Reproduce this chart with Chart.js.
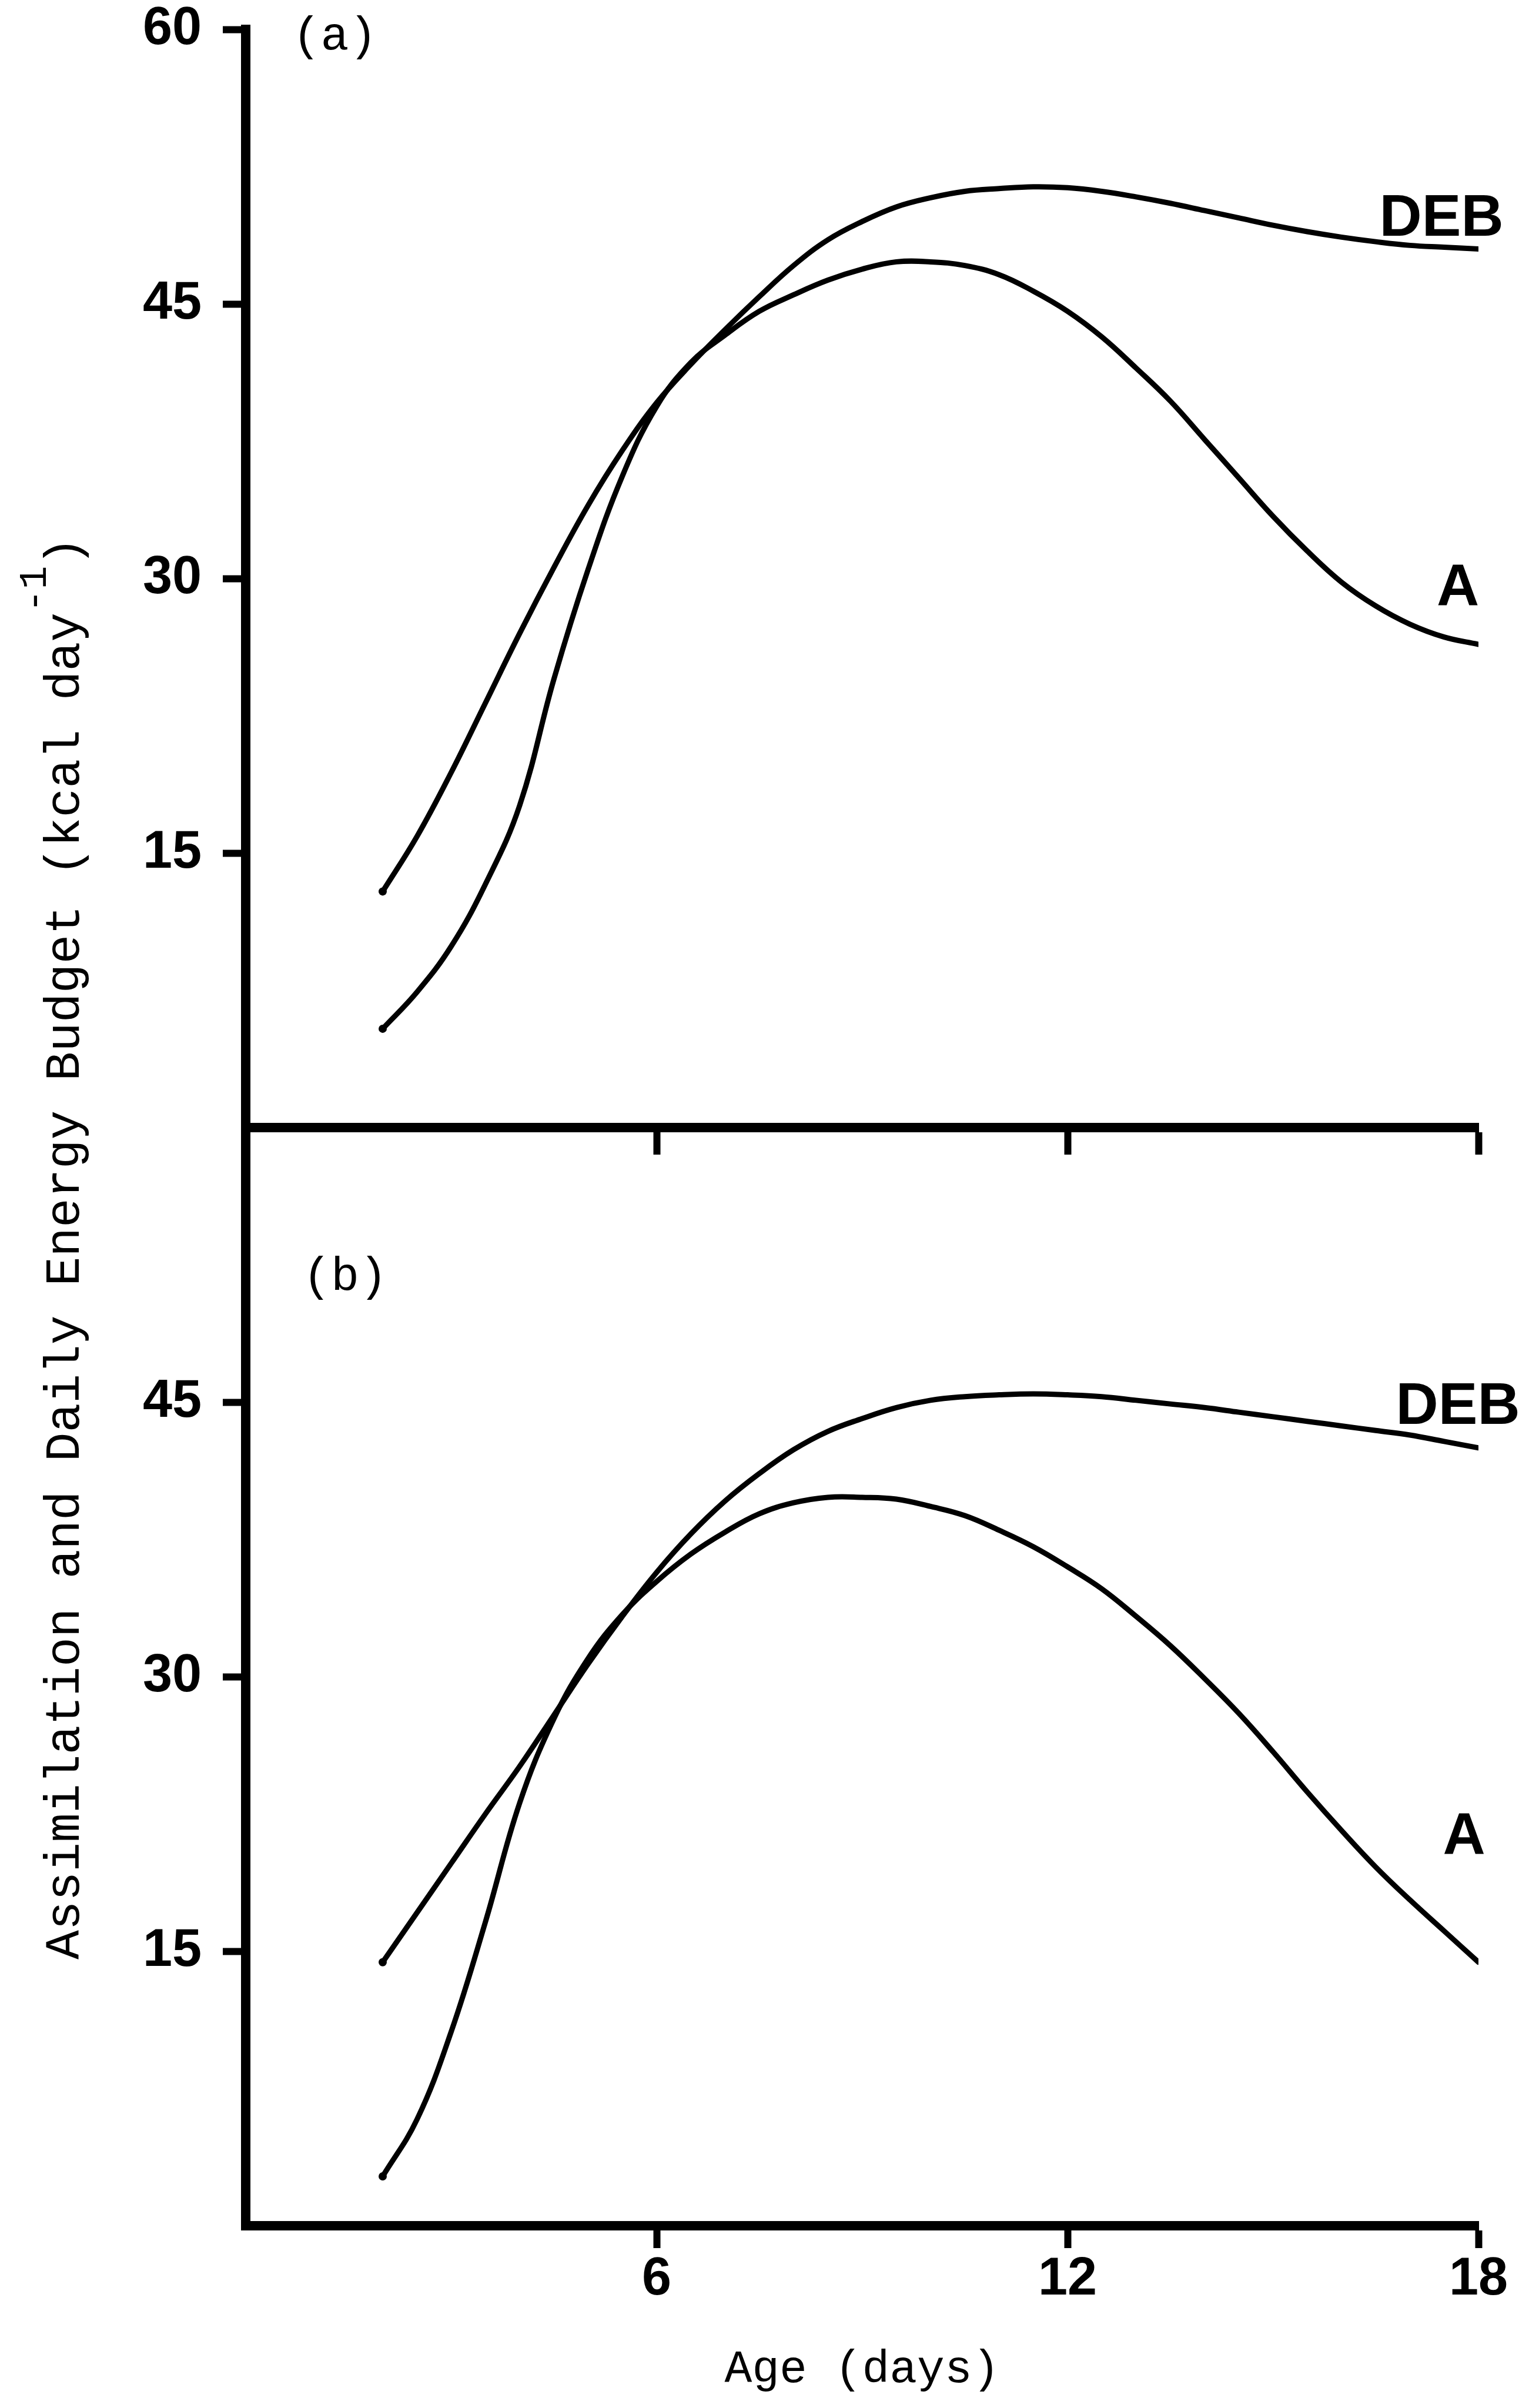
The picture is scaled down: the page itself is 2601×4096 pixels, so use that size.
<!DOCTYPE html>
<html>
<head>
<meta charset="utf-8">
<title>Assimilation and Daily Energy Budget</title>
<script src="https://cdn.jsdelivr.net/npm/chart.js@4/dist/chart.umd.min.js"></script>
<style>
  html, body { margin: 0; padding: 0; background: #fff; }
  #wrap { position: relative; width: 2601px; height: 4096px; }
</style>
</head>
<body>
<div id="wrap"><canvas id="chart"></canvas></div>
<script>
// values (age in days, kcal per day)
const days = [2, 2.5, 3, 3.5, 4, 4.5, 5, 5.5, 6, 6.5, 7, 7.5, 8, 8.5, 9, 9.5, 10,
  10.5, 11, 11.5, 12, 12.5, 13, 13.5, 14, 14.5, 15, 15.5, 16, 16.5, 17, 17.5, 18];

// panel (a)
const debTop = [12.9, 15.9, 19.4, 23.2, 27.0, 30.6, 34.0, 37.0, 39.6, 41.7, 43.6, 45.4, 47.1, 48.5, 49.5, 50.3, 50.8,
  51.15, 51.3, 51.4, 51.35, 51.15, 50.85, 50.5, 50.1, 49.7, 49.3, 48.95, 48.65, 48.4, 48.2, 48.1, 48.0];
const assimTop = [5.4, 7.4, 9.9, 13.3, 17.6, 24.5, 30.5, 35.6, 39.4, 41.8, 43.3, 44.6, 45.5, 46.3, 46.9, 47.3, 47.3,
  47.1, 46.6, 45.7, 44.6, 43.2, 41.5, 39.7, 37.6, 35.5, 33.4, 31.5, 29.8, 28.5, 27.5, 26.8, 26.4];

// panel (b)
const debBottom = [14.4, 17.1, 19.8, 22.5, 25.1, 27.9, 30.7, 33.3, 35.7, 37.8, 39.6, 41.1, 42.4, 43.4, 44.1, 44.7, 45.1,
  45.3, 45.4, 45.45, 45.4, 45.3, 45.1, 44.9, 44.7, 44.45, 44.2, 43.95, 43.7, 43.45, 43.2, 42.85, 42.5];
const assimBottom = [2.7, 5.8, 10.6, 16.6, 23.1, 27.7, 31.0, 33.4, 35.2, 36.7, 37.9, 38.9, 39.5, 39.8, 39.8, 39.7, 39.3,
  38.8, 38.0, 37.1, 36.0, 34.8, 33.3, 31.7, 29.9, 28.0, 25.9, 23.7, 21.6, 19.6, 17.8, 16.1, 14.4];

const xTicks = [6, 12, 18];
const yTicksTop = [15, 30, 45, 60];
const yTicksBottom = [15, 30, 45];

const MONO = '"Liberation Mono", "DejaVu Sans Mono", monospace';
const SANS = '"Liberation Sans", Arial, sans-serif';

Chart.defaults.color = '#000';
Chart.defaults.font.family = SANS;

function pts(vals) {
  return days.map((d, i) => ({ x: d, y: vals[i] }));
}

function curve(vals, axis) {
  return {
    data: pts(vals),
    xAxisID: 'x',
    yAxisID: axis,
    borderColor: '#000',
    borderWidth: 9,
    borderCapStyle: 'round',
    borderJoinStyle: 'round',
    tension: 0.4,
    pointRadius: (c) => (c.dataIndex === 0 ? 7 : 0),
    pointBackgroundColor: '#000',
    pointBorderWidth: 0,
    fill: false
  };
}

function fixTicks(list) {
  return (scale) => { scale.ticks = list.map((v) => ({ value: v })); };
}

// text placed in data units of the panel it belongs to
const placedLabels = [
  { text: '(a)', axis: 'yTop', x: 1.30, y: 59.6, font: '80px ' + MONO },
  { text: '(b)', axis: 'yBottom', x: 1.45, y: 51.8, font: '80px ' + MONO },
  { text: 'DEB', axis: 'yTop', x: 17.46, y: 49.6, font: 'bold 100px ' + SANS },
  { text: 'A', axis: 'yTop', x: 17.70, y: 29.4, font: 'bold 100px ' + SANS },
  { text: 'DEB', axis: 'yBottom', x: 17.70, y: 44.7, font: 'bold 100px ' + SANS },
  { text: 'A', axis: 'yBottom', x: 17.79, y: 21.2, font: 'bold 100px ' + SANS }
];

const textPlugin = {
  id: 'panelText',
  afterDraw(chart) {
    const { ctx, scales } = chart;
    ctx.save();
    ctx.fillStyle = '#000';
    ctx.textAlign = 'center';
    ctx.textBaseline = 'middle';
    placedLabels.forEach((l) => {
      ctx.font = l.font;
      ctx.fillText(l.text, scales.x.getPixelForValue(l.x), scales[l.axis].getPixelForValue(l.y));
    });

    // shared y title, running up the left side
    const main = 'Assimilation and Daily Energy Budget (kcal day';
    const sup = '-1';
    const close = ')';
    const size = 83;
    ctx.translate(112, 2123);
    ctx.rotate(-Math.PI / 2);
    ctx.textAlign = 'left';
    ctx.font = size + 'px ' + MONO;
    const w1 = ctx.measureText(main).width;
    const w3 = ctx.measureText(close).width;
    ctx.font = Math.round(size * 0.8) + 'px ' + MONO;
    const w2 = ctx.measureText(sup).width;
    const x0 = -(w1 + w2 + w3) / 2;
    ctx.font = size + 'px ' + MONO;
    ctx.fillText(main, x0, 0);
    ctx.font = Math.round(size * 0.8) + 'px ' + MONO;
    ctx.fillText(sup, x0 + w1, -size * 0.62);
    ctx.font = size + 'px ' + MONO;
    ctx.fillText(close, x0 + w1 + w2, 0);
    ctx.restore();
  }
};

const tickFont = { family: SANS, size: 90, weight: 'bold' };

function yAxis(list, weight) {
  return {
    type: 'linear',
    axis: 'y',
    position: 'left',
    stack: 'panels',
    stackWeight: 1,
    weight: weight,
    min: 0,
    max: 60,
    afterBuildTicks: fixTicks(list),
    afterFit: (s) => { s.width = 418; s.paddingTop = 0; s.paddingBottom = 0; },
    grid: { drawOnChartArea: false, drawTicks: true, tickLength: 39, tickWidth: 12, tickColor: '#000' },
    border: { display: true, color: '#000', width: 16 },
    ticks: { color: '#000', font: tickFont, padding: 36 }
  };
}

new Chart(document.getElementById('chart'), {
  type: 'line',
  data: {
    datasets: [
      curve(debTop, 'yTop'),
      curve(assimTop, 'yTop'),
      curve(debBottom, 'yBottom'),
      curve(assimBottom, 'yBottom')
    ]
  },
  options: {
    responsive: true,
    maintainAspectRatio: false,
    animation: false,
    devicePixelRatio: 1,
    layout: { padding: { top: 50, right: 86, bottom: 0, left: 0 } },
    plugins: { legend: { display: false }, tooltip: { enabled: false } },
    scales: {
      x: {
        type: 'linear',
        position: 'bottom',
        min: 0,
        max: 18,
        afterBuildTicks: fixTicks(xTicks),
        afterFit: (s) => { s.height = 310; s.paddingLeft = 0; s.paddingRight = 0; },
        grid: { drawOnChartArea: false, drawTicks: true, tickLength: 38, tickWidth: 12, tickColor: '#000' },
        border: { display: true, color: '#000', width: 16 },
        ticks: { color: '#000', font: tickFont, padding: 0, maxRotation: 0, autoSkip: false },
        title: {
          display: true,
          text: 'Age (days)',
          color: '#000',
          font: { family: MONO, size: 78 },
          padding: { top: 0, bottom: 18 }
        }
      },
      // bottom edge of panel (a)
      xMid: {
        type: 'linear',
        axis: 'x',
        position: { yTop: 0 },
        min: 0,
        max: 18,
        afterBuildTicks: fixTicks(xTicks),
        afterFit: (s) => { s.paddingLeft = 0; s.paddingRight = 0; },
        grid: { drawOnChartArea: false, drawTicks: true, tickLength: 38, tickWidth: 12, tickColor: '#000' },
        border: { display: true, color: '#000', width: 16 },
        ticks: { display: false }
      },
      yTop: yAxis(yTicksTop, 2),
      yBottom: yAxis(yTicksBottom, 1)
    }
  },
  plugins: [textPlugin]
});
</script>
</body>
</html>
